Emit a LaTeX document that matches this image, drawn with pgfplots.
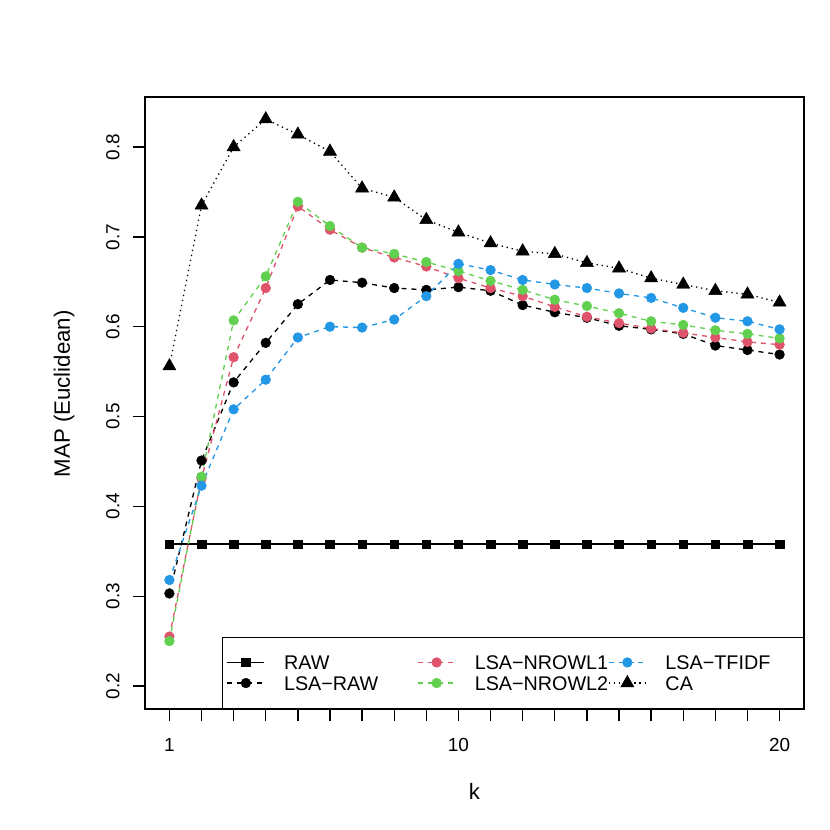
\documentclass[border=0pt]{standalone}
\usepackage{fontspec}
\setmainfont{Liberation Sans}
\usepackage{pgfplots}
\usepackage{pgfplotstable}
\pgfplotsset{compat=1.18}
\definecolor{rred}{HTML}{DF536B}
\definecolor{rgreen}{HTML}{61D04F}
\definecolor{rblue}{HTML}{2297E6}

\pgfplotstableread{
k  raw   lsaraw nrowl1 nrowl2 tfidf ca
1  0.358 0.303  0.255  0.250  0.318 0.556
2  0.358 0.451  0.431  0.433  0.423 0.735
3  0.358 0.538  0.566  0.607  0.508 0.800
4  0.358 0.582  0.643  0.656  0.541 0.831
5  0.358 0.625  0.734  0.739  0.588 0.814
6  0.358 0.652  0.708  0.712  0.600 0.795
7  0.358 0.649  0.688  0.688  0.599 0.754
8  0.358 0.643  0.677  0.681  0.608 0.744
9  0.358 0.641  0.667  0.672  0.634 0.719
10 0.358 0.644  0.654  0.662  0.670 0.705
11 0.358 0.640  0.643  0.651  0.663 0.693
12 0.358 0.624  0.634  0.641  0.652 0.684
13 0.358 0.616  0.622  0.630  0.647 0.681
14 0.358 0.610  0.611  0.623  0.643 0.671
15 0.358 0.601  0.604  0.615  0.637 0.665
16 0.358 0.597  0.598  0.606  0.632 0.654
17 0.358 0.592  0.593  0.602  0.621 0.647
18 0.358 0.579  0.588  0.596  0.610 0.640
19 0.358 0.574  0.583  0.592  0.606 0.636
20 0.358 0.569  0.580  0.587  0.597 0.627
}\maptable

\tikzset{
  rawln/.style={black,solid,line width=0.8pt,mark=square*,mark size=2.6pt,
    mark options={solid,line width=0.3pt,fill=black}},
  lsaln/.style={color=#1,line width=0.8pt,dash pattern=on 3pt off 3pt,mark=*,
    mark size=2.95pt,mark options={solid,line width=0.3pt,fill=#1}},
  caln/.style={black,line width=0.8pt,dash pattern=on 0.8pt off 2.3pt,mark=triangle*,
    mark size=4.6pt,mark options={solid,line width=0.3pt,fill=black}},
}

\begin{document}
\begin{tikzpicture}
  \path (-88.04pt,-73.47pt) rectangle (415.93pt,430.50pt);
  \begin{axis}[
    at={(0,0)},anchor=south west,scale only axis,
    width=400.14pt,height=371.61pt,
    xmin=0.24,xmax=20.76,ymin=0.1744,ymax=0.8557,
    axis line style={black,line width=0.8pt},
    tick style={black,line width=0.8pt},
    tick align=outside,major tick length=7.1pt,
    xtick pos=left,ytick pos=left,
    xtick={1,...,20},
    xticklabels={1,{},{},{},{},{},{},{},{},10,{},{},{},{},{},{},{},{},{},20},
    ytick={0.2,0.3,0.4,0.5,0.6,0.7,0.8},
    yticklabels={0.2,0.3,0.4,0.5,0.6,0.7,0.8},
    ticklabel style={font=\fontsize{11.5}{14}\selectfont},
    xticklabel style={anchor=north,inner xsep=0pt,inner ysep=10.7pt},
    yticklabel style={rotate=90,anchor=south,inner xsep=0pt,inner ysep=8.1pt},
    xlabel={k},ylabel={MAP (Euclidean)},
    label style={font=\fontsize{13.5}{16}\selectfont},
    xlabel style={at={(axis description cs:0.5,-0.1475)},anchor=base},
    ylabel style={at={(axis description cs:-0.1138,0.515)},anchor=base},
    legend columns=3,
    legend image code/.code={\draw[mark repeat=2,mark phase=2,#1]
      plot coordinates {(0pt,0pt) (11.25pt,0pt) (22.5pt,0pt)};},
    legend style={at={(1,0)},anchor=south east,draw=black,line width=0.8pt,fill=white,
      font=\fontsize{12}{14.3}\selectfont,inner xsep=2.7pt,inner ysep=9.6pt,
      cells={anchor=west},nodes={inner sep=0pt},row sep=1pt,
      /tikz/every odd column/.append style={column sep=11.5pt},
      /tikz/every even column/.append style={column sep=0pt}},
  ]
    \addplot[rawln,forget plot] table[x=k,y=raw]{\maptable};
    \addplot[lsaln=black,forget plot] table[x=k,y=lsaraw]{\maptable};
    \addplot[lsaln=rred,forget plot] table[x=k,y=nrowl1]{\maptable};
    \addplot[lsaln=rgreen,forget plot] table[x=k,y=nrowl2]{\maptable};
    \addplot[lsaln=rblue,forget plot] table[x=k,y=tfidf]{\maptable};
    \addplot[caln,forget plot] table[x=k,y=ca]{\maptable};

    \addlegendimage{rawln}
    \addlegendentry{\makebox[81pt][l]{\strut RAW}}
    \addlegendimage{lsaln=rred}
    \addlegendentry{\makebox[81pt][l]{\strut LSA−NROWL1}}
    \addlegendimage{lsaln=rblue}
    \addlegendentry{\makebox[81pt][l]{\strut LSA−TFIDF}}
    \addlegendimage{lsaln=black}
    \addlegendentry{\makebox[81pt][l]{\strut LSA−RAW}}
    \addlegendimage{lsaln=rgreen}
    \addlegendentry{\makebox[81pt][l]{\strut LSA−NROWL2}}
    \addlegendimage{caln}
    \addlegendentry{\makebox[81pt][l]{\strut CA}}
  \end{axis}
\end{tikzpicture}
\end{document}
